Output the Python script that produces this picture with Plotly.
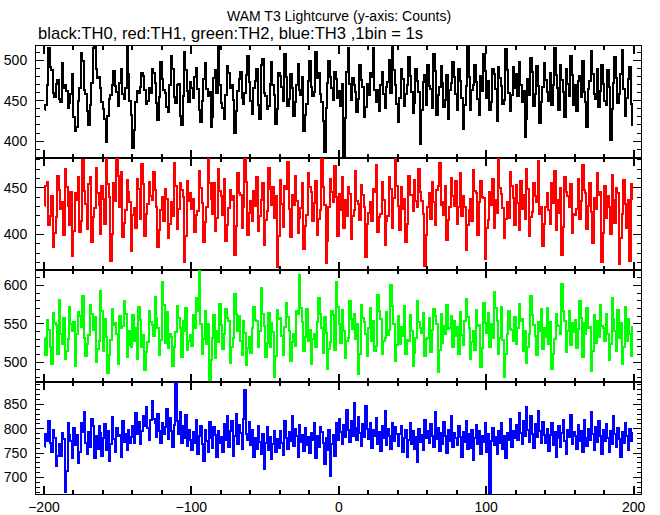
import numpy as np
import plotly.graph_objects as go
from plotly.subplots import make_subplots

title_text = "WAM T3 Lightcurve (y-axis: Counts)"
subtitle_text = "black:TH0, red:TH1, green:TH2, blue:TH3 ,1bin = 1s"

th0 = [
 438, 445, 470, 515, 492, 488, 460, 455, 471, 476, 452, 448, 497, 466, 470, 462, 441, 447, 458, 483,
 430, 412, 418, 450, 466, 509, 500, 463, 459, 437, 420, 445, 472, 516, 521, 490, 478, 480, 466, 449,
 440, 427, 399, 431, 452, 457, 470, 487, 468, 461, 443, 472, 490, 458, 452, 466, 517, 483, 450, 432,
 391, 414, 448, 462, 460, 467, 484, 481, 463, 446, 450, 466, 460, 489, 485, 472, 447, 426, 455, 498,
 477, 463, 460, 442, 436, 469, 506, 490, 455, 447, 470, 471, 431, 420, 456, 510, 488, 462, 448, 473,
 466, 454, 479, 491, 465, 438, 424, 450, 477, 497, 465, 456, 461, 418, 430, 478, 488, 460, 520, 469,
 447, 441, 428, 457, 493, 484, 466, 470, 451, 410, 437, 462, 477, 486, 453, 446, 460, 482, 505, 473,
 450, 434, 466, 475, 490, 445, 427, 495, 502, 460, 456, 440, 443, 471, 498, 469, 457, 421, 440, 485,
 481, 467, 450, 508, 479, 443, 452, 483, 466, 431, 448, 470, 496, 464, 457, 480, 413, 432, 446, 475,
 500, 467, 456, 461, 510, 478, 485, 458, 449, 425, 387, 441, 472, 499, 480, 466, 451, 486, 477, 453,
 462, 444, 471, 381, 429, 486, 515, 471, 451, 478, 469, 461, 436, 452, 494, 476, 467, 430, 442, 471,
 457, 485, 480, 516, 464, 448, 463, 437, 470, 486, 458, 441, 467, 473, 501, 460, 517, 488, 469, 446,
 424, 453, 490, 477, 443, 459, 470, 504, 481, 461, 435, 447, 489, 474, 461, 397, 438, 473, 482, 445,
 494, 468, 465, 441, 508, 487, 432, 457, 467, 493, 472, 442, 451, 482, 428, 464, 472, 498, 479, 458,
 438, 489, 474, 453, 415, 445, 468, 517, 480, 439, 463, 469, 494, 473, 452, 432, 481, 462, 508, 487,
 454, 474, 438, 449, 489, 483, 465, 425, 492, 478, 468, 446, 451, 514, 488, 460, 437, 457, 492, 466,
 483, 456, 498, 470, 449, 462, 405, 428, 477, 457, 503, 486, 444, 458, 493, 468, 422, 449, 467, 497,
 476, 461, 450, 484, 445, 469, 516, 482, 466, 438, 494, 476, 461, 430, 489, 471, 456, 505, 482, 445,
 470, 437, 474, 481, 455, 499, 461, 448, 417, 465, 475, 512, 483, 459, 452, 490, 442, 462, 494, 471,
 450, 445, 488, 467, 401, 440, 472, 504, 478, 447, 459, 483, 513, 465, 431, 453, 477, 492, 446, 420,
]

th1 = [
 431, 452, 456, 410, 420, 441, 387, 402, 419, 463, 448, 427, 435, 399, 470, 451, 431, 410, 446, 377,
 404, 444, 437, 462, 403, 414, 480, 447, 433, 406, 454, 462, 392, 419, 428, 471, 445, 432, 401, 452,
 438, 411, 483, 454, 440, 372, 401, 455, 436, 486, 463, 430, 467, 397, 412, 426, 458, 446, 435, 382,
 421, 428, 407, 459, 449, 417, 476, 454, 398, 422, 433, 456, 441, 437, 467, 448, 429, 387, 405, 426,
 440, 414, 449, 438, 396, 411, 435, 420, 477, 452, 406, 427, 455, 448, 440, 371, 398, 457, 436, 444,
 427, 438, 403, 421, 425, 468, 450, 434, 392, 413, 429, 482, 455, 438, 422, 455, 404, 418, 470, 447,
 441, 421, 459, 393, 410, 428, 448, 437, 441, 378, 409, 466, 445, 442, 407, 430, 485, 456, 399, 423,
 436, 415, 447, 431, 462, 404, 420, 437, 455, 389, 416, 425, 471, 449, 432, 451, 418, 441, 365, 398,
 458, 433, 408, 452, 449, 478, 427, 397, 442, 432, 463, 436, 402, 418, 428, 455, 384, 409, 421, 466,
 451, 446, 415, 434, 457, 400, 417, 426, 487, 451, 432, 369, 393, 430, 459, 446, 435, 473, 440, 398,
 443, 426, 462, 407, 437, 420, 451, 443, 395, 420, 426, 468, 436, 433, 416, 453, 442, 429, 376, 411,
 423, 435, 414, 449, 446, 474, 403, 419, 422, 456, 437, 389, 415, 420, 462, 449, 407, 439, 481, 452,
 431, 405, 451, 427, 438, 392, 411, 463, 442, 442, 425, 458, 436, 430, 470, 446, 436, 422, 366, 399,
 429, 444, 417, 456, 435, 410, 448, 452, 477, 432, 435, 421, 452, 394, 416, 430, 461, 441, 431, 457,
 411, 429, 466, 420, 441, 429, 383, 410, 426, 438, 414, 469, 447, 444, 400, 435, 457, 440, 439, 374,
 407, 416, 446, 432, 459, 407, 437, 423, 484, 450, 443, 428, 396, 417, 435, 418, 467, 452, 439, 410,
 453, 434, 405, 457, 427, 442, 417, 470, 449, 398, 419, 424, 455, 441, 435, 479, 422, 430, 388, 411,
 429, 444, 426, 411, 455, 434, 468, 405, 437, 423, 450, 378, 408, 462, 446, 441, 430, 454, 402, 422,
 421, 427, 460, 417, 436, 475, 448, 445, 406, 431, 455, 424, 391, 439, 427, 466, 442, 446, 371, 402,
 452, 418, 441, 429, 401, 464, 437, 412, 450, 445, 368, 396, 422, 458, 433, 407, 437, 372, 454, 438,
]

th2 = [
 531, 509, 555, 542, 520, 497, 564, 551, 548, 511, 581, 536, 523, 557, 504, 515, 530, 572, 549, 541,
 552, 495, 537, 565, 560, 546, 586, 531, 508, 524, 535, 575, 562, 542, 559, 500, 517, 527, 592, 566,
 514, 556, 533, 486, 509, 529, 569, 548, 551, 536, 498, 560, 545, 547, 579, 563, 506, 522, 541, 519,
 561, 528, 545, 504, 572, 555, 519, 535, 490, 513, 526, 566, 552, 548, 534, 585, 557, 545, 509, 529,
 604, 574, 525, 565, 518, 537, 533, 495, 520, 539, 573, 558, 544, 507, 553, 541, 570, 516, 528, 535,
 521, 561, 544, 584, 567, 619, 549, 511, 530, 567, 524, 550, 477, 503, 531, 561, 505, 540, 526, 576,
 548, 517, 536, 569, 557, 553, 499, 520, 532, 589, 562, 541, 560, 527, 509, 553, 538, 496, 518, 533,
 512, 544, 572, 555, 554, 519, 541, 596, 563, 547, 506, 525, 564, 520, 551, 539, 481, 508, 568, 556,
 557, 534, 509, 546, 577, 559, 540, 501, 526, 536, 521, 566, 562, 613, 571, 552, 514, 533, 569, 527,
 542, 497, 530, 536, 519, 552, 583, 562, 545, 512, 559, 538, 491, 517, 526, 567, 561, 516, 604, 572,
 549, 525, 568, 540, 505, 528, 531, 579, 556, 543, 562, 530, 549, 485, 511, 575, 557, 552, 537, 508,
 544, 570, 527, 553, 514, 521, 587, 566, 556, 510, 528, 532, 565, 535, 542, 600, 573, 549, 502, 522,
 560, 524, 546, 534, 573, 511, 529, 527, 561, 540, 495, 512, 531, 580, 552, 544, 538, 564, 508, 530,
 531, 558, 513, 542, 569, 560, 550, 487, 516, 563, 525, 547, 536, 574, 543, 545, 560, 520, 554, 534,
 546, 510, 565, 535, 522, 553, 582, 559, 545, 504, 526, 541, 516, 568, 547, 548, 494, 518, 577, 551,
 538, 564, 519, 549, 532, 591, 570, 553, 511, 531, 572, 529, 481, 510, 536, 567, 543, 542, 527, 559,
 523, 545, 576, 554, 556, 514, 541, 499, 520, 537, 586, 561, 548, 534, 509, 552, 541, 569, 517, 544,
 533, 571, 524, 552, 491, 510, 530, 563, 548, 547, 536, 602, 567, 554, 513, 540, 567, 522, 551, 539,
 555, 518, 543, 579, 558, 506, 551, 536, 570, 544, 546, 488, 514, 561, 525, 554, 533, 575, 547, 545,
 527, 562, 536, 503, 524, 584, 556, 541, 514, 568, 532, 551, 497, 520, 572, 528, 556, 537, 508, 546,
]

th3 = [
 762, 789, 774, 815, 770, 752, 798, 781, 724, 744, 768, 745, 792, 778, 671, 713, 812, 787, 774, 740,
 801, 766, 788, 729, 752, 812, 794, 835, 771, 748, 793, 763, 820, 805, 739, 786, 759, 805, 792, 744,
 781, 810, 757, 795, 733, 768, 824, 779, 752, 801, 786, 787, 742, 815, 773, 790, 756, 798, 771, 783,
 806, 771, 832, 789, 814, 768, 795, 827, 805, 845, 802, 776, 819, 858, 821, 811, 784, 830, 796, 771,
 812, 789, 803, 840, 778, 823, 795, 762, 808, 893, 816, 790, 834, 771, 805, 782, 828, 764, 798, 776,
 757, 793, 771, 818, 748, 785, 806, 769, 734, 797, 775, 752, 814, 780, 761, 803, 788, 741, 795, 770,
 784, 753, 809, 776, 827, 762, 796, 815, 744, 786, 831, 768, 807, 792, 758, 821, 880, 789, 776, 813,
 766, 798, 741, 782, 759, 805, 773, 749, 790, 718, 771, 803, 757, 784, 737, 769, 796, 752, 779, 761,
 795, 770, 747, 816, 782, 758, 793, 775, 826, 764, 799, 786, 742, 808, 772, 788, 755, 801, 767, 784,
 750, 791, 776, 812, 739, 785, 763, 804, 793, 770, 727, 781, 757, 798, 702, 769, 788, 745, 812, 776,
 821, 794, 768, 807, 783, 839, 797, 772, 815, 786, 852, 801, 777, 824, 791, 765, 810, 784, 846, 799,
 778, 811, 760, 797, 785, 822, 769, 793, 754, 806, 781, 836, 767, 799, 785, 758, 812, 774, 803, 790,
 764, 789, 806, 752, 781, 797, 743, 776, 812, 769, 795, 758, 784, 731, 800, 773, 787, 756, 818, 780,
 796, 771, 809, 785, 762, 834, 779, 801, 755, 792, 768, 814, 786, 750, 798, 775, 827, 763, 791, 782,
 767, 805, 784, 741, 793, 772, 816, 758, 789, 761, 798, 735, 781, 807, 769, 795, 748, 786, 772, 811,
 753, 789, 665, 774, 801, 766, 783, 749, 796, 771, 812, 758, 786, 739, 792, 777, 821, 763, 795, 780,
 808, 776, 832, 791, 769, 815, 785, 844, 797, 773, 826, 790, 761, 809, 784, 837, 796, 770, 813, 788,
 771, 799, 754, 787, 812, 766, 793, 742, 780, 805, 762, 791, 818, 775, 748, 797, 783, 829, 768, 794,
 785, 758, 807, 774, 796, 752, 819, 781, 764, 800, 777, 835, 789, 757, 803, 772, 816, 786, 748, 798,
 774, 809, 781, 752, 796, 768, 827, 790, 763, 801, 779, 741, 794, 771, 812, 786, 757, 799, 775, 791,
]

series = [th0, th1, th2, th3]
colors = ["#000000", "#ff0000", "#00ff00", "#0000ff"]
y_ranges = [[379, 518], [362, 482], [474, 620], [666, 896]]
x_range = [-205.4, 205]
x_tickvals = [-200, -100, 0, 100, 200]

fig = make_subplots(rows=4, cols=1, shared_xaxes=True, vertical_spacing=0)

for i, (vals, col) in enumerate(zip(series, colors)):
    n = len(vals)
    x = -199.5 + np.arange(n)
    fig.add_trace(
        go.Scatter(x=x, y=vals, mode="lines",
                   line=dict(color=col, width=2, shape="hvh", simplify=False),
                   showlegend=False, hoverinfo="skip"),
        row=i + 1, col=1,
    )

font_family = "Liberation Sans, Arial, Helvetica, sans-serif"

for i in range(4):
    fig.update_yaxes(
        range=y_ranges[i], dtick=50, ticks="inside", ticklen=8, tickwidth=1, tickcolor="black",
        showline=True, linecolor="black", linewidth=1, mirror="ticks",
        showgrid=False, zeroline=False, automargin=False, ticklabelstandoff=5,
        minor=dict(dtick=10, ticks="inside", ticklen=4, tickcolor="black", showgrid=False),
        tickfont=dict(size=14, color="black", family=font_family),
        row=i + 1, col=1,
    )
    fig.update_xaxes(
        range=x_range, tickvals=x_tickvals, ticks="inside", ticklen=8, tickwidth=2, tickcolor="black",
        showline=True, linecolor="black", linewidth=1, mirror="ticks",
        showgrid=False, zeroline=False, showticklabels=(i == 3), automargin=False,
        ticklabelstandoff=0,
        minor=dict(dtick=20, tick0=0, ticks="inside", ticklen=4, tickcolor="black", showgrid=False),
        tickfont=dict(size=14, color="black", family=font_family),
        row=i + 1, col=1,
    )

fig.add_annotation(text=title_text, xref="paper", yref="paper", x=0.5, y=1.0, yshift=20,
                   xanchor="center", yanchor="bottom", showarrow=False,
                   font=dict(size=14, color="black", family=font_family))
fig.add_annotation(text=subtitle_text, xref="paper", yref="paper", x=0.0, y=1.0, yshift=1,
                   xanchor="left", yanchor="bottom", showarrow=False,
                   font=dict(size=16.6, color="black", family=font_family))

fig.update_layout(
    width=660, height=515,
    margin=dict(l=36, r=19, t=46, b=21, pad=0),
    paper_bgcolor="white", plot_bgcolor="white",
    font=dict(family=font_family, color="black"),
)

page_js = (
    "document.body.style.margin='0';document.body.style.padding='0';"
    "var gd=document.getElementById('{plot_id}');"
    "function crisp(){gd.querySelectorAll('.scatterlayer path').forEach(function(p){"
    "p.style.shapeRendering='crispEdges';});}"
    "crisp(); gd.on('plotly_afterplot', crisp);"
)

fig.write_html("out.html", post_script=page_js, config={"displayModeBar": False})
